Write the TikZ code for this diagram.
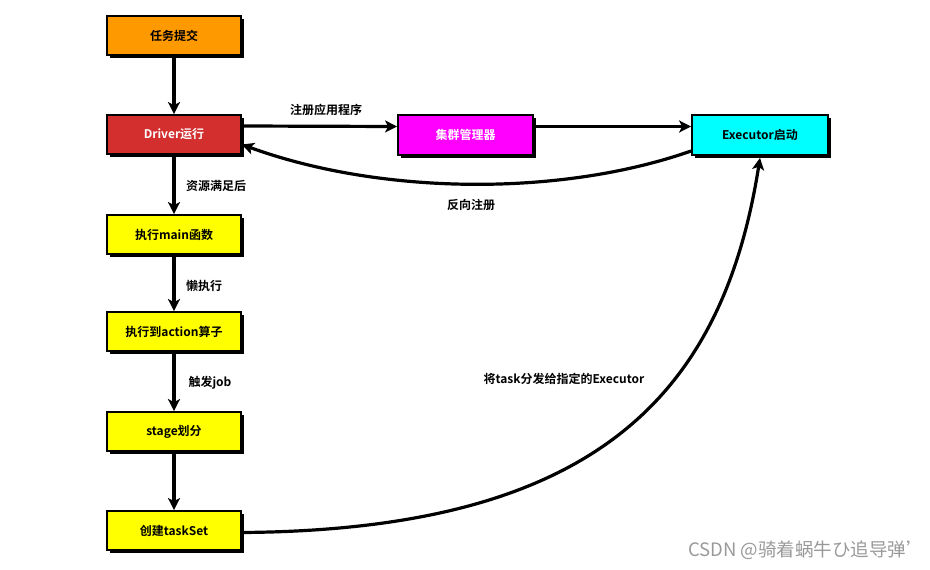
\documentclass[tikz,border=0pt]{standalone}
\usepackage{fontspec}
\setmainfont{Noto Sans CJK SC}[BoldFont={Noto Sans CJK SC Bold}]
\usetikzlibrary{arrows.meta,shadows}
\definecolor{cOrange}{HTML}{FF9900}
\definecolor{cRed}{HTML}{D32F2F}
\definecolor{cMag}{HTML}{FF00FF}
\definecolor{cCyan}{HTML}{00FFFF}
\definecolor{cYel}{HTML}{FFFF00}
\tikzset{
  box/.style={draw=black, line width=1.8pt, minimum width=134pt, minimum height=39pt,
    inner sep=0pt, font=\fontsize{12}{14}\selectfont\bfseries,
    general shadow={fill=black, shadow xshift=2.5pt, shadow yshift=-2.5pt}},
  conn/.style={line width=3.2pt, -{Stealth[length=12pt,width=12pt,inset=3pt]}},
  lbl/.style={font=\fontsize{12}{14}\selectfont\bfseries, inner sep=1pt}
}
\begin{document}
\begin{tikzpicture}[x=1pt,y=-1pt]
\useasboundingbox (0,0) rectangle (930,570);
\node[box, fill=cOrange] (sub) at (174,35.5) {任务提交};
\node[box, fill=cRed, text=white] (drv) at (174,134.5) {Driver运行};
\node[box, fill=cMag, text=white, minimum width=135pt, minimum height=40pt] (cm) at (465.5,135) {集群管理器};
\node[box, fill=cCyan, minimum width=136pt, minimum height=40pt] (exe) at (760,135) {Executor启动};
\node[box, fill=cYel] (main) at (174,234.5) {执行main函数};
\node[box, fill=cYel] (act) at (174,331.5) {执行到action算子};
\node[box, fill=cYel] (stg) at (174,431.5) {stage划分};
\node[box, fill=cYel] (ts) at (174,530.5) {创建taskSet};

\draw[conn] (sub.south) -- (drv.north);
\draw[conn] (drv.south) -- (main.north);
\draw[conn] (main.south) -- (act.north);
\draw[conn] (act.south) -- (stg.north);
\draw[conn] (stg.south) -- (ts.north);

\draw[conn] ([yshift=8.5pt]drv.east) -- ([yshift=8.5pt]cm.west);
\draw[conn] ([yshift=8.5pt]cm.east) -- ([yshift=8.5pt]exe.west);
\draw[conn] ([yshift=-16pt]exe.west) .. controls (560,197) and (380,195) .. ([yshift=-10pt]drv.east);
\draw[conn] ([yshift=-2pt]ts.east) .. controls (590,530) and (722,400) .. ([yshift=-2pt]exe.south);

\node[lbl] (l1) at (326,110) {注册应用程序};
\node[lbl] (l2) at (471,205) {反向注册};
\node[lbl] (l3) at (216,186) {资源满足后};
\node[lbl] (l4) at (204,286) {懒执行};
\node[lbl] (l5) at (210,383) {触发job};
\node[lbl] (l6) at (564,379) {将task分发给指定的Executor};
\node[font=\fontsize{18.5}{20}\selectfont, text=black!40, anchor=east, inner sep=0pt] (wm) at (925,550) {CSDN @骑着蜗牛ひ追导弹'};
\end{tikzpicture}
\end{document}
